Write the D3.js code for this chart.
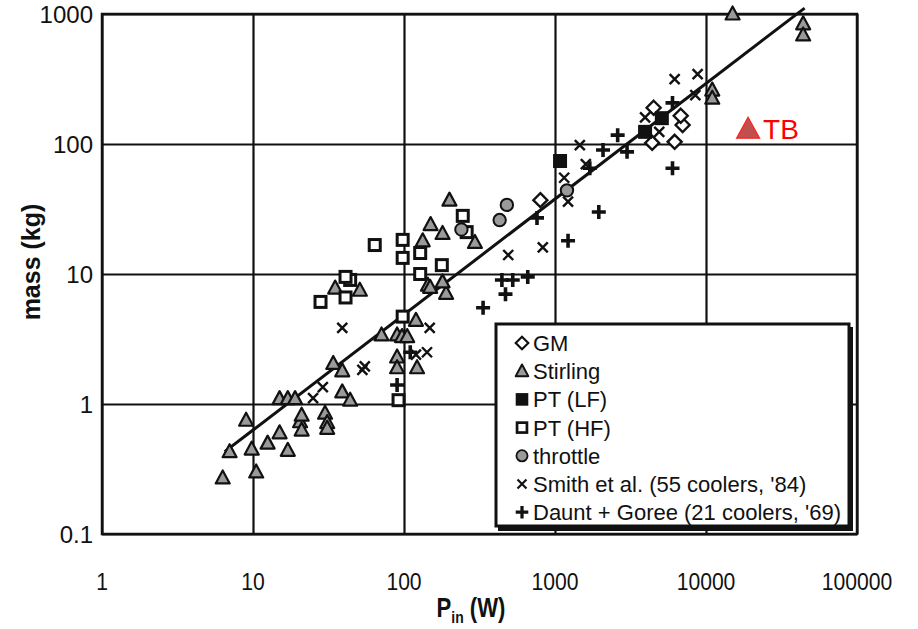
<!DOCTYPE html>
<html><head><meta charset="utf-8">
<script src="https://cdn.jsdelivr.net/npm/d3@7"></script>
<style>body{margin:0;background:#fff}</style>
</head><body>
<svg id="c" width="918" height="629"></svg>
<script>
// ---- data (P_in in W, mass in kg) ----
const xTicks = [1, 10, 100, 1000, 10000, 100000];
const yTicks = [0.1, 1, 10, 100, 1000];
const xTickLabels = ["1", "10", "100", "1000", "10000", "100000"];
const yTickLabels = ["0.1", "1", "10", "100", "1000"];

const gm = [[800,37],[4500,190],[7000,140],[6200,104],[4400,102],[6800,165]];
const stirling = [[6.3,0.27],[10.5,0.3],[7,0.43],[9.8,0.45],[9,0.75],[12.5,0.5],[15,0.6],[17,0.44],
  [15,1.1],[17,1.1],[19,1.1],[20.5,0.73],[21,0.63],[21,0.82],[30,0.85],[31,0.72],[31,0.65],
  [39,1.24],[44,1.07],[34,2.05],[39,1.8],[71,3.4],[90,3.4],[97,3.3],[105,3.3],[120,4.4],
  [90,2.3],[90,1.9],[122,1.9],[35,7.8],[51,7.5],[144,8.2],[190,7.1],[180,8.7],[200,37],
  [150,24],[180,20.5],[133,18],[295,17.5],[149,7.9],[15000,1000],[44000,840],[44000,690],
  [11000,260],[11000,225]];
const ptLF = [[1080,74],[3950,124],[5100,158]];
const ptHF = [[28,6.1],[41,6.6],[44,9],[41,9.5],[64,16.7],[98,18.3],[98,13.3],[128,14.5],
  [128,10],[178,11.7],[245,28],[260,21],[98,4.7],[92,1.07]];
const throttle = [[480,34],[430,26],[240,22],[1200,44]];
const smith = [[490,14],[830,16],[1220,36],[1460,98],[3950,160],[4900,124],[6200,316],[8500,238],
  [8800,345],[39,3.85],[148,3.85],[142,2.5],[53,1.83],[29,1.35],[25,1.11],[55,1.95],[120,2.4],
  [1150,55],[1600,70]];
const daunt = [[760,27],[1220,18],[1950,30],[1700,65],[2080,90],[2600,117],[3000,87],[6000,207],
  [6000,65],[334,5.5],[445,9],[525,9],[470,7],[110,2.5],[90,1.4],[660,9.5]];
const fitX = [6.5, 45000];
const fitY = [0.43, 1110];
const tbPoint = [19000, 130];
const legendLabels = ["GM","Stirling","PT (LF)","PT (HF)","throttle","Smith et al. (55 coolers, '84)","Daunt + Goree (21 coolers, '69)"];

// ---- layout ----
const svg = d3.select("#c");
const L = 102, R = 857, T = 14, B = 534;
const x = d3.scaleLog().domain([1, 100000]).range([L, R]);
const y = d3.scaleLog().domain([0.1, 1000]).range([B, T]);

// grid via axes
svg.append("g").attr("transform", `translate(0,${B})`)
  .call(d3.axisBottom(x).tickValues(xTicks).tickSize(-(B - T)).tickFormat(""))
  .call(g => { g.select(".domain").remove(); g.selectAll("line").attr("stroke", "#111").attr("stroke-width", 2.2); });
svg.append("g").attr("transform", `translate(${L},0)`)
  .call(d3.axisLeft(y).tickValues(yTicks).tickSize(-(R - L)).tickFormat(""))
  .call(g => { g.select(".domain").remove(); g.selectAll("line").attr("stroke", "#111").attr("stroke-width", 2.2); });
svg.append("rect").attr("x", L).attr("y", T).attr("width", R - L).attr("height", B - T)
  .attr("fill", "none").attr("stroke", "#111").attr("stroke-width", 2.5);

// tick labels
svg.append("g").selectAll("text").data(xTicks).join("text")
  .attr("transform", d => `translate(${x(d)},590) scale(0.88,1)`)
  .attr("text-anchor", "middle").attr("font-family", "Liberation Sans, Arial, sans-serif")
  .attr("font-size", 24).attr("fill", "#111").text((d, i) => xTickLabels[i]);
svg.append("g").selectAll("text").data(yTicks).join("text")
  .attr("x", 93).attr("y", d => y(d)).attr("dy", "0.36em")
  .attr("text-anchor", "end").attr("font-family", "Liberation Sans, Arial, sans-serif")
  .attr("font-size", 24).attr("fill", "#111").text((d, i) => yTickLabels[i]);

// axis titles
const xt = svg.append("text").attr("transform", "translate(471,617) scale(0.82,1)")
  .attr("text-anchor", "middle").attr("font-family", "Liberation Sans, Arial, sans-serif")
  .attr("font-weight", "bold").attr("font-size", 27).attr("fill", "#111");
xt.append("tspan").text("P");
xt.append("tspan").attr("font-size", 17).attr("dy", 6).text("in");
xt.append("tspan").attr("dy", -6).text(" (W)");
svg.append("text").attr("transform", "translate(40,262) rotate(-90)")
  .attr("text-anchor", "middle").attr("font-family", "Liberation Sans, Arial, sans-serif")
  .attr("font-weight", "bold").attr("font-size", 25).attr("fill", "#111").text("mass (kg)");

// fit line
svg.append("path").datum(fitX.map((v, i) => [v, fitY[i]]))
  .attr("d", d3.line().x(d => x(d[0])).y(d => y(d[1])))
  .attr("stroke", "#111").attr("stroke-width", 3).attr("fill", "none");

// marker drawers
function drawMarker(g, type, cx, cy, scale) {
  const s = scale || 1;
  const t = `translate(${cx},${cy}) scale(${s})`;
  if (type === "gm") {
    g.append("path").attr("transform", t).attr("d", "M0,-7L7,0L0,7L-7,0Z")
      .attr("fill", "#fff").attr("stroke", "#111").attr("stroke-width", 2.4);
  } else if (type === "stirling") {
    g.append("path").attr("transform", t).attr("d", "M0,-7.5L7,5.5L-7,5.5Z")
      .attr("fill", "#9a9a9a").attr("stroke", "#111").attr("stroke-width", 2.2).attr("stroke-linejoin", "round");
  } else if (type === "ptlf") {
    g.append("rect").attr("transform", t).attr("x", -7).attr("y", -7).attr("width", 14).attr("height", 14)
      .attr("fill", "#111");
  } else if (type === "pthf") {
    g.append("rect").attr("transform", t).attr("x", -5.5).attr("y", -5.5).attr("width", 11).attr("height", 11)
      .attr("fill", "#fff").attr("stroke", "#111").attr("stroke-width", 3);
  } else if (type === "throttle") {
    g.append("circle").attr("transform", t).attr("r", 6.2)
      .attr("fill", "#9a9a9a").attr("stroke", "#111").attr("stroke-width", 2);
  } else if (type === "smith") {
    g.append("path").attr("transform", t).attr("d", "M-5,-5L5,5M-5,5L5,-5")
      .attr("stroke", "#111").attr("stroke-width", 2.4).attr("fill", "none");
  } else if (type === "daunt") {
    g.append("path").attr("transform", t).attr("d", "M-7,0L7,0M0,-7L0,7")
      .attr("stroke", "#111").attr("stroke-width", 3.6).attr("fill", "none");
  }
}
const series = [["stirling", stirling], ["pthf", ptHF], ["throttle", throttle], ["smith", smith],
  ["daunt", daunt], ["gm", gm], ["ptlf", ptLF]];
const mg = svg.append("g");
series.forEach(([type, data]) => {
  data.forEach(d => drawMarker(mg, type, x(d[0]), y(d[1])));
});

// TB marker
svg.append("path").attr("transform", `translate(${x(tbPoint[0])},${y(tbPoint[1])})`)
  .attr("d", "M0,-12L11.5,9L-11.5,9Z").attr("fill", "#c0504d").attr("stroke", "#ff2020").attr("stroke-width", 1.2);
svg.append("text").attr("x", x(tbPoint[0]) + 15).attr("y", y(tbPoint[1]) + 10)
  .attr("font-family", "Liberation Sans, Arial, sans-serif").attr("font-size", 28).attr("fill", "#ff0000").text("TB");

// legend
const lg = svg.append("g");
lg.append("rect").attr("x", 498).attr("y", 327).attr("width", 355).attr("height", 204).attr("fill", "#111");
lg.append("rect").attr("x", 496).attr("y", 324).attr("width", 353).attr("height", 202)
  .attr("fill", "#fff").attr("stroke", "#111").attr("stroke-width", 3);
const legTypes = ["gm", "stirling", "ptlf", "pthf", "throttle", "smith", "daunt"];
legTypes.forEach((t, i) => {
  const cy = 343 + i * 28.2;
  drawMarker(lg, t, 522, cy, 0.9);
  lg.append("text").attr("x", 533).attr("y", cy).attr("dy", "0.36em")
    .attr("font-family", "Liberation Sans, Arial, sans-serif").attr("font-size", 22).attr("fill", "#111")
    .text(legendLabels[i]);
});
</script>
</body></html>
